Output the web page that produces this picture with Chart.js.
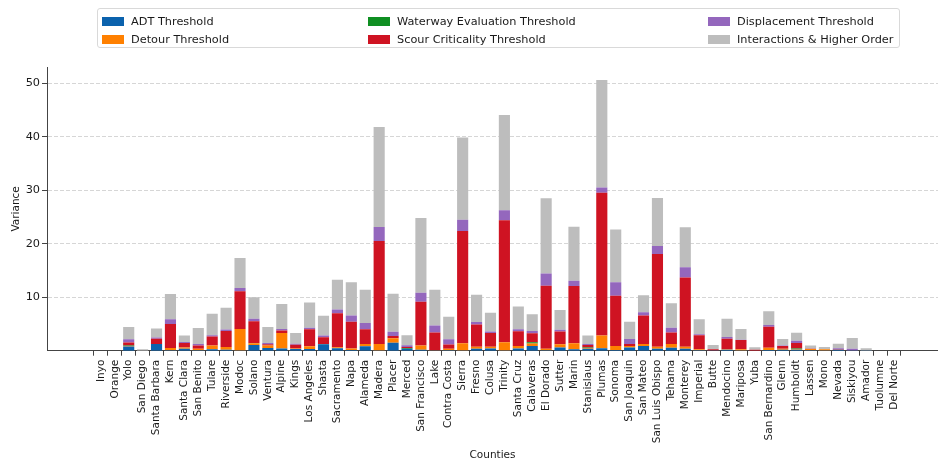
<!DOCTYPE html>
<html>
<head>
<meta charset="utf-8">
<script src="https://cdn.jsdelivr.net/npm/chart.js@4/dist/chart.umd.min.js"></script>
<style>
  html, body { margin: 0; padding: 0; background: #fff; }
  #wrap { position: relative; width: 938px; height: 464px; }
  #legend {
    position: absolute; left: 97px; top: 8px; width: 803px; height: 40px;
    border: 1px solid #d9d9d9; border-radius: 3px; box-sizing: border-box;
    font-family: "DejaVu Sans", sans-serif; font-size: 11.3px; color: #1a1a1a;
  }
  .item { position: absolute; display: flex; align-items: center; height: 14px; white-space: nowrap; }
  .sw { width: 22px; height: 9px; margin-right: 7px; }
</style>
</head>
<body>
<div id="wrap">
  <canvas id="chart" width="938" height="464"></canvas>
  <div id="legend"></div>
</div>
<script>
const counties = ['Inyo', 'Orange', 'Yolo', 'San Diego', 'Santa Barbara', 'Kern', 'Santa Clara', 'San Benito',
  'Tulare', 'Riverside', 'Modoc', 'Solano', 'Ventura', 'Alpine', 'Kings', 'Los Angeles', 'Shasta',
  'Sacramento', 'Napa', 'Alameda', 'Madera', 'Placer', 'Merced', 'San Francisco', 'Lake', 'Contra Costa',
  'Sierra', 'Fresno', 'Colusa', 'Trinity', 'Santa Cruz', 'Calaveras', 'El Dorado', 'Sutter', 'Marin',
  'Stanislaus', 'Plumas', 'Sonoma', 'San Joaquin', 'San Mateo', 'San Luis Obispo', 'Tehama', 'Monterey',
  'Imperial', 'Butte', 'Mendocino', 'Mariposa', 'Yuba', 'San Bernardino', 'Glenn', 'Humboldt', 'Lassen',
  'Mono', 'Nevada', 'Siskiyou', 'Amador', 'Tuolumne', 'Del Norte'];

const adt = [0, 0, 0.8, 0, 1.25, 0.1, 0.35, 0.1, 0.25, 0.2, 0.05, 1.05, 0.5, 0.4, 0.3, 0.3, 1.2,
  0.45, 0.15, 0.85, 0.05, 1.5, 0.35, 0.2, 0.05, 0.1, 0.05, 0.35, 0.4, 0.05, 0.4, 0.9, 0.1, 0.6, 0.25,
  0.35, 0.45, 0.15, 0.6, 0.9, 0.35, 0.55, 0.35, 0.1, 0.05, 0.2, 0.05, 0, 0.15, 0.2, 0.2, 0.1,
  0.05, 0.2, 0.05, 0.05, 0, 0];
const detour = [0, 0, 0.1, 0, 0, 0.4, 0.25, 0.25, 0.7, 0.5, 4.0, 0.35, 0.45, 2.9, 0.1, 0.55, 0,
  0.2, 0.25, 0.4, 1.2, 0.85, 0, 0.75, 0.05, 0.25, 1.35, 0.4, 0.35, 1.55, 0.5, 0.45, 0.25, 0.6, 1.15,
  0.15, 2.4, 0.75, 0.3, 0.35, 0.4, 0.7, 0.4, 0.15, 0, 0.05, 0.2, 0, 0.4, 0.15, 0.05, 0.2,
  0.2, 0, 0, 0, 0, 0];
const waterway = [0, 0, 0.05, 0, 0, 0, 0, 0, 0, 0, 0, 0.05, 0, 0, 0, 0, 0.05,
  0, 0, 0, 0, 0, 0.15, 0, 0, 0, 0, 0, 0, 0, 0, 0.25, 0, 0, 0,
  0.1, 0, 0, 0, 0, 0, 0, 0, 0, 0, 0, 0, 0, 0, 0, 0.15, 0,
  0, 0, 0, 0, 0, 0];
const scour = [0, 0, 0.6, 0, 1.0, 4.5, 0.85, 0.6, 1.7, 3.0, 7.1, 4.05, 0.25, 0.5, 0.7, 3.15, 1.25,
  6.35, 5.0, 2.75, 19.3, 0.4, 0.2, 8.2, 3.3, 0.8, 21.0, 4.15, 2.55, 22.8, 2.75, 1.65, 11.8, 2.4, 10.7,
  0.45, 26.7, 9.4, 0.35, 5.35, 17.35, 2.15, 12.95, 2.65, 0.2, 2.0, 1.75, 0.2, 3.95, 0.55, 1.05, 0.05,
  0, 0.05, 0, 0, 0, 0];
const displacement = [0, 0, 0.6, 0, 0.2, 0.9, 0.2, 0.3, 0.25, 0.25, 0.6, 0.5, 0.25, 0.25, 0.2, 0.3, 0.35,
  0.7, 1.2, 1.2, 2.6, 0.8, 0.3, 1.7, 1.3, 1.0, 2.1, 0.45, 0.3, 1.9, 0.35, 0.45, 2.3, 0.3, 1.0,
  0.2, 1.0, 2.5, 0.95, 0.6, 1.5, 0.9, 1.9, 0.2, 0, 0.3, 0.05, 0, 0.3, 0.05, 0.4, 0,
  0, 0.2, 0.3, 0, 0, 0];
const interactions = [0, 0, 2.3, 0.25, 1.7, 4.7, 1.2, 3.0, 4.0, 4.1, 5.6, 4.0, 3.0, 4.7, 2.0, 4.7, 3.7,
  5.6, 6.2, 6.2, 18.7, 7.1, 1.9, 14.0, 6.7, 4.2, 15.4, 5.1, 3.5, 17.8, 4.25, 3.1, 14.1, 3.7, 10.1,
  1.6, 20.1, 9.9, 3.2, 3.2, 9.0, 4.6, 7.5, 2.8, 0.8, 3.45, 2.0, 0.45, 2.6, 1.25, 1.5, 0.6,
  0.45, 0.85, 2.05, 0.4, 0, 0];

const yTicks = [10, 20, 30, 40, 50];

const seriesNames = ['ADT Threshold', 'Detour Threshold', 'Waterway Evaluation Threshold',
  'Scour Criticality Threshold', 'Displacement Threshold', 'Interactions & Higher Order'];
const seriesValues = [adt, detour, waterway, scour, displacement, interactions];
const seriesColors = ['#0b62ad', '#ff8000', '#0f8f22', '#cf1322', '#9467bd', '#bdbdbd'];

const font = { family: '"DejaVu Sans", sans-serif', size: 10.5 };
const yFont = { family: '"DejaVu Sans", sans-serif', size: 11.3 };

const ctx = document.getElementById('chart');
const chart = new Chart(ctx, {
  type: 'bar',
  data: {
    datasets: seriesNames.map((name, k) => ({
      label: name,
      data: seriesValues[k].map((v, i) => ({ x: i, y: v })),
      backgroundColor: seriesColors[k],
      borderWidth: 0,
      categoryPercentage: 0.8,
      barPercentage: 1.0
    }))
  },
  options: {
    responsive: false,
    animation: false,
    layout: { padding: { top: 67, left: 0, right: 0, bottom: 0 } },
    plugins: { legend: { display: false }, tooltip: { enabled: false } },
    scales: {
      x: {
        type: 'linear',
        stacked: true,
        min: -3.32,
        max: 59.61,
        afterBuildTicks: (s) => { s.ticks = counties.map((c, i) => ({ value: i })); },
        afterFit: (s) => { s.height = 113.3; },
        ticks: {
          autoSkip: false,
          maxRotation: 90,
          minRotation: 90,
          padding: 4,
          color: '#1a1a1a',
          font: font,
          callback: (v) => counties[v]
        },
        grid: { drawOnChartArea: false, tickLength: 5, tickColor: '#444', tickWidth: 1 },
        border: { color: '#444', width: 1 },
        title: { display: true, text: 'Counties', color: '#1a1a1a', font: font, padding: { top: 0, bottom: 2 } }
      },
      y: {
        stacked: true,
        min: 0,
        max: 53.1,
        afterBuildTicks: (s) => { s.ticks = yTicks.map(v => ({ value: v })); },
        afterFit: (s) => { s.width = 47; },
        ticks: { padding: 2, color: '#1a1a1a', font: yFont },
        grid: { color: '#cccccc', lineWidth: 0.8, tickLength: 5, tickColor: '#444', tickWidth: 1 },
        border: { color: '#444', width: 1, dash: [4, 2] },
        title: { display: true, text: 'Variance', color: '#1a1a1a', font: font, padding: { top: 10, bottom: 0 } }
      }
    }
  }
});

// legend laid out in three columns, built from the chart's datasets
const legendPos = [[4, 5], [4, 23], [270, 5], [270, 23], [610, 5], [610, 23]];
const legend = document.getElementById('legend');
chart.data.datasets.forEach((ds, k) => {
  const item = document.createElement('div');
  item.className = 'item';
  item.style.left = legendPos[k][0] + 'px';
  item.style.top = legendPos[k][1] + 'px';
  item.innerHTML = '<span class="sw" style="background:' + ds.backgroundColor + '"></span><span></span>';
  item.lastChild.textContent = ds.label;
  legend.appendChild(item);
});
</script>
</body>
</html>
